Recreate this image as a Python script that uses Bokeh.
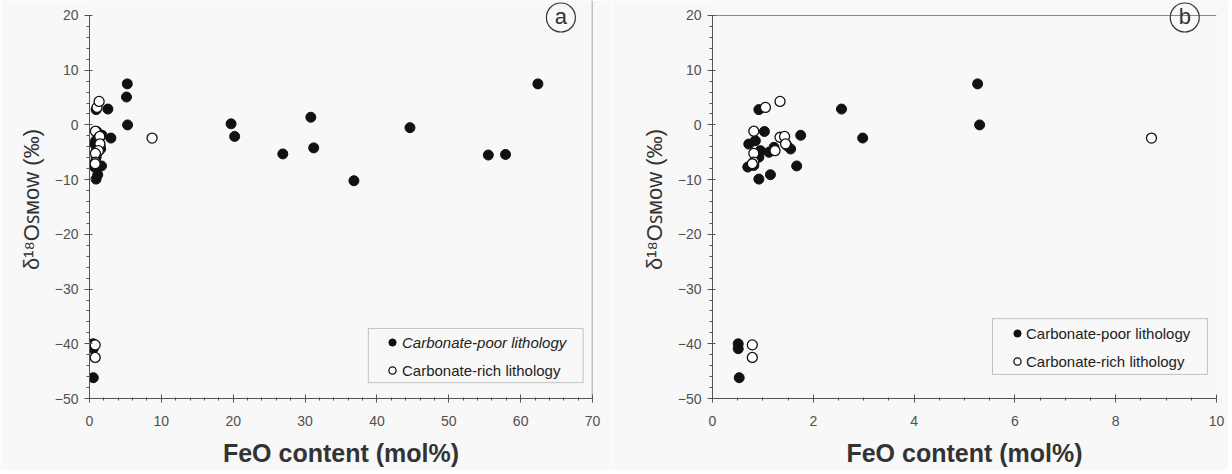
import numpy as np
from bokeh.plotting import figure
from bokeh.models import Legend, LegendItem, BoxAnnotation, Label, Range1d, FixedTicker
from bokeh.layouts import row
from bokeh.embed import file_html
from bokeh.resources import INLINE

# ---------------- data ----------------
# Carbonate-poor lithology (filled)
poor_feo = [0.92, 2.56, 2.98, 1.03, 1.75, 0.72, 0.85, 0.95, 1.12, 1.22, 1.55, 1.48,
            0.70, 0.82, 1.67, 0.92, 1.15, 0.92, 5.26, 5.30,
            0.51, 0.51, 0.53,
            19.7, 20.2, 26.9, 30.8, 31.2, 36.8, 44.6, 55.5, 57.9, 62.4]
poor_d18o = [2.8, 2.9, -2.4, -1.2, -1.9, -3.5, -2.9, -4.7, -5.0, -4.1, -4.4, -3.8,
             -7.7, -7.4, -7.5, -9.9, -9.1, -5.9, 7.5, 0.0,
             -40.0, -40.9, -46.2,
             0.2, -2.1, -5.3, 1.4, -4.2, -10.2, -0.5, -5.5, -5.4, 7.5]
# point only visible in panel (a)
poor_a_feo = [5.15]
poor_a_d18o = [5.1]

# Carbonate-rich lithology (open)
rich_feo = [1.05, 1.34, 0.82, 1.34, 1.43, 1.45, 1.24, 0.82, 0.82, 0.79, 8.71,
            0.79, 0.79]
rich_d18o = [3.2, 4.3, -1.15, -2.25, -2.1, -3.45, -4.7, -5.2, -6.8, -7.1, -2.4,
             -40.2, -42.5]

legend_labels = ["Carbonate-poor lithology", "Carbonate-rich lithology"]
x_label = "FeO content (mol%)"
y_label = "δ¹⁸Oꜱᴍᴏᴡ (‰)"
panel_tags = ["a", "b"]
xa_ticks = [0, 10, 20, 30, 40, 50, 60, 70]
xb_ticks = [0, 2, 4, 6, 8, 10]
y_ticks = [-50, -40, -30, -20, -10, 0, 10, 20]

BG = "#f8f8f8"
FONT = "Liberation Sans"
YTOP = 22.74


def make_panel(xmax, xticks, minor, left_b, right_b, frame_w):
    p = figure(output_backend="svg", toolbar_location=None,
               x_range=Range1d(0, xmax), y_range=Range1d(-50, YTOP),
               frame_width=frame_w, frame_height=398,
               min_border_left=left_b, min_border_right=right_b,
               min_border_top=0, min_border_bottom=72,
               background_fill_color=BG, border_fill_color=BG)
    p.outline_line_color = None
    p.xgrid.visible = False
    p.ygrid.visible = False

    xa = p.xaxis[0]
    xa.ticker = FixedTicker(ticks=xticks, minor_ticks=list(minor))
    xa.axis_line_color = "#555555"
    xa.major_tick_line_color = "#555555"
    xa.minor_tick_line_color = "#555555"
    xa.major_tick_in = 4
    xa.major_tick_out = 4
    xa.minor_tick_in = 1
    xa.minor_tick_out = 2
    xa.major_label_text_font = FONT
    xa.major_label_text_font_size = "14px"
    xa.major_label_text_color = "#505050"
    xa.major_label_standoff = 13
    xa.axis_label = x_label
    xa.axis_label_text_font = FONT
    xa.axis_label_text_font_size = "25px"
    xa.axis_label_text_font_style = "bold"
    xa.axis_label_text_color = "#333333"
    xa.axis_label_standoff = 10

    ya = p.yaxis[0]
    ya.ticker = FixedTicker(ticks=y_ticks, minor_ticks=list(range(-50, 21, 2)))
    ya.bounds = (-50, 20)
    ya.axis_line_color = "#555555"
    ya.major_tick_line_color = "#555555"
    ya.minor_tick_line_color = "#555555"
    ya.major_tick_in = 3
    ya.major_tick_out = 5
    ya.minor_tick_in = 0
    ya.minor_tick_out = 3
    ya.major_label_text_font = FONT
    ya.major_label_text_font_size = "14px"
    ya.major_label_text_color = "#505050"
    ya.major_label_standoff = 6
    ya.axis_label = y_label
    ya.axis_label_text_font = FONT
    ya.axis_label_text_font_size = "22px"
    ya.axis_label_text_font_style = "normal"
    ya.axis_label_text_color = "#333333"
    ya.axis_label_standoff = 8
    return p


# ---------------- panel a ----------------
pa = make_panel(70, xa_ticks, np.arange(0, 70.1, 2), 89, 20, 503)
ra1 = pa.scatter(poor_feo + poor_a_feo, poor_d18o + poor_a_d18o, size=10,
                 fill_color="#111111", line_color="#111111")
ra2 = pa.scatter(rich_feo, rich_d18o, size=10, fill_color="white",
                 line_color="#111111", line_width=1.3)
pa.segment(x0=[70], y0=[-50], x1=[70], y1=[YTOP], line_color="#888888", line_width=1.5)

# ---------------- panel b ----------------
pb = make_panel(10, xb_ticks, np.arange(0, 10.01, 0.5), 100, 12, 504)
rb1 = pb.scatter(poor_feo, poor_d18o, size=10, fill_color="#111111", line_color="#111111")
rb2 = pb.scatter(rich_feo, rich_d18o, size=10, fill_color="white",
                 line_color="#111111", line_width=1.3)
pb.segment(x0=[0], y0=[20], x1=[10], y1=[20], line_color="#888888", line_width=1)


def add_legend(p, r1, r2, loc1, loc2, style1, standoff):
    for r, lab, loc, st in ((r1, legend_labels[0], loc1, style1),
                            (r2, legend_labels[1], loc2, "normal")):
        lg = Legend(items=[LegendItem(label=lab, renderers=[r])], location=loc,
                    padding=0, margin=0, border_line_color=None,
                    background_fill_alpha=0, glyph_width=18, glyph_height=18,
                    label_height=18, label_standoff=standoff,
                    label_text_font=FONT, label_text_font_size="15px",
                    label_text_font_style=st, label_text_color="#222222")
        p.add_layout(lg)


add_legend(pa, ra1, ra2, (294, 47), (294, 19), "italic", 1)
pa.add_layout(BoxAnnotation(left=38.8, right=68.7, top=-37.2, bottom=-47.1,
                            fill_alpha=0, line_color="#444444", line_width=1))
add_legend(pb, rb1, rb2, (296, 56), (296, 28), "normal", 0)
pb.add_layout(BoxAnnotation(left=5.556, right=9.82, top=-35.4, bottom=-45.6,
                            fill_alpha=0, line_color="#444444", line_width=1))


# circled panel tags
def add_tag(p, x, tag):
    p.scatter([x], [19.63], size=29, fill_color=None, line_color="#333333", line_width=1.2)
    p.add_layout(Label(x=x, y=19.63, text=tag, text_align="center", text_baseline="middle",
                       text_font=FONT, text_font_size="22px", text_color="#333333",
                       y_offset=1))


add_tag(pa, 65.6, panel_tags[0])
add_tag(pb, 9.37, panel_tags[1])

layout = row(pa, pb)
open("out.html", "w").write(file_html(layout, INLINE))
